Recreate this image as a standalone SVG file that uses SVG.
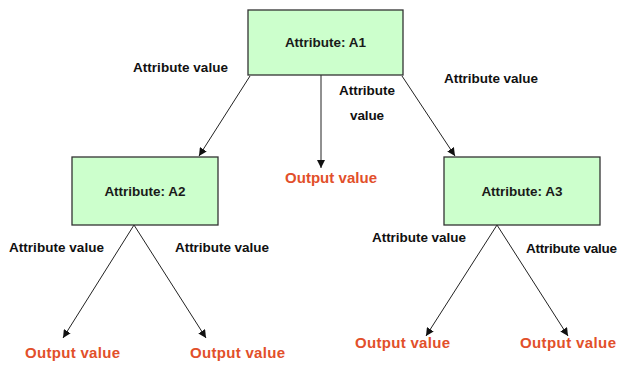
<svg xmlns="http://www.w3.org/2000/svg" width="619" height="365" viewBox="0 0 619 365">
  <style>
    .box { fill: #ccffcc; stroke: #333333; stroke-width: 1.3; }
    .name { font-family: "Liberation Sans", Arial, sans-serif; font-weight: bold; font-size: 13.5px; fill: #1a1a1a; text-anchor: middle; }
    .attr { font-family: "Liberation Sans", Arial, sans-serif; font-weight: bold; font-size: 13.5px; fill: #111111; }
    .out { font-family: "Liberation Sans", Arial, sans-serif; font-weight: bold; font-size: 15px; fill: #e2502a; }
    .edge { stroke: #222222; stroke-width: 1; fill: none; marker-end: url(#arrow); }
  </style>
  <defs>
    <marker id="arrow" viewBox="0 0 10 10" refX="10" refY="5" markerWidth="8" markerHeight="8" markerUnits="userSpaceOnUse" orient="auto">
      <path d="M0,0 L10,5 L0,10 z" fill="#111111"/>
    </marker>
  </defs>
  <rect width="619" height="365" fill="#ffffff"/>

  <g id="connectors">
    <line class="edge" x1="250" y1="76" x2="199" y2="156"/>
    <line class="edge" x1="321" y1="75" x2="321" y2="168"/>
    <line class="edge" x1="402" y1="76" x2="455" y2="156"/>
    <line class="edge" x1="134" y1="225" x2="63" y2="338"/>
    <line class="edge" x1="134" y1="225" x2="206" y2="338"/>
    <line class="edge" x1="497" y1="225" x2="426" y2="336"/>
    <line class="edge" x1="497" y1="225" x2="568" y2="336"/>
  </g>

  <g id="edge-labels">
    <text class="attr" x="133" y="72" textLength="95">Attribute value</text>
    <text class="attr" x="444" y="83" textLength="94">Attribute value</text>
    <text class="attr" x="339" y="95" textLength="56">Attribute</text>
    <text class="attr" x="350" y="120" textLength="34">value</text>
    <text class="attr" x="9" y="252" textLength="95">Attribute value</text>
    <text class="attr" x="175" y="252" textLength="94">Attribute value</text>
    <text class="attr" x="372" y="242" textLength="94">Attribute value</text>
    <text class="attr" x="526" y="253" textLength="91">Attribute value</text>
  </g>

  <g id="node-a1">
    <rect class="box" x="248" y="10" width="155" height="65"/>
    <text class="name" x="325.5" y="47">Attribute: A1</text>
  </g>
  <g id="node-a2">
    <rect class="box" x="72" y="157" width="146" height="68"/>
    <text class="name" x="145" y="196">Attribute: A2</text>
  </g>
  <g id="node-a3">
    <rect class="box" x="444" y="157" width="156" height="68"/>
    <text class="name" x="522" y="196">Attribute: A3</text>
  </g>

  <g id="leaf-a1">
    <text class="out" x="285" y="183" textLength="92">Output value</text>
  </g>
  <g id="leaf-a2-left">
    <text class="out" x="25" y="358" textLength="95">Output value</text>
  </g>
  <g id="leaf-a2-right">
    <text class="out" x="190" y="358" textLength="95">Output value</text>
  </g>
  <g id="leaf-a3-left">
    <text class="out" x="355" y="348" textLength="95">Output value</text>
  </g>
  <g id="leaf-a3-right">
    <text class="out" x="520" y="348" textLength="96">Output value</text>
  </g>
</svg>
